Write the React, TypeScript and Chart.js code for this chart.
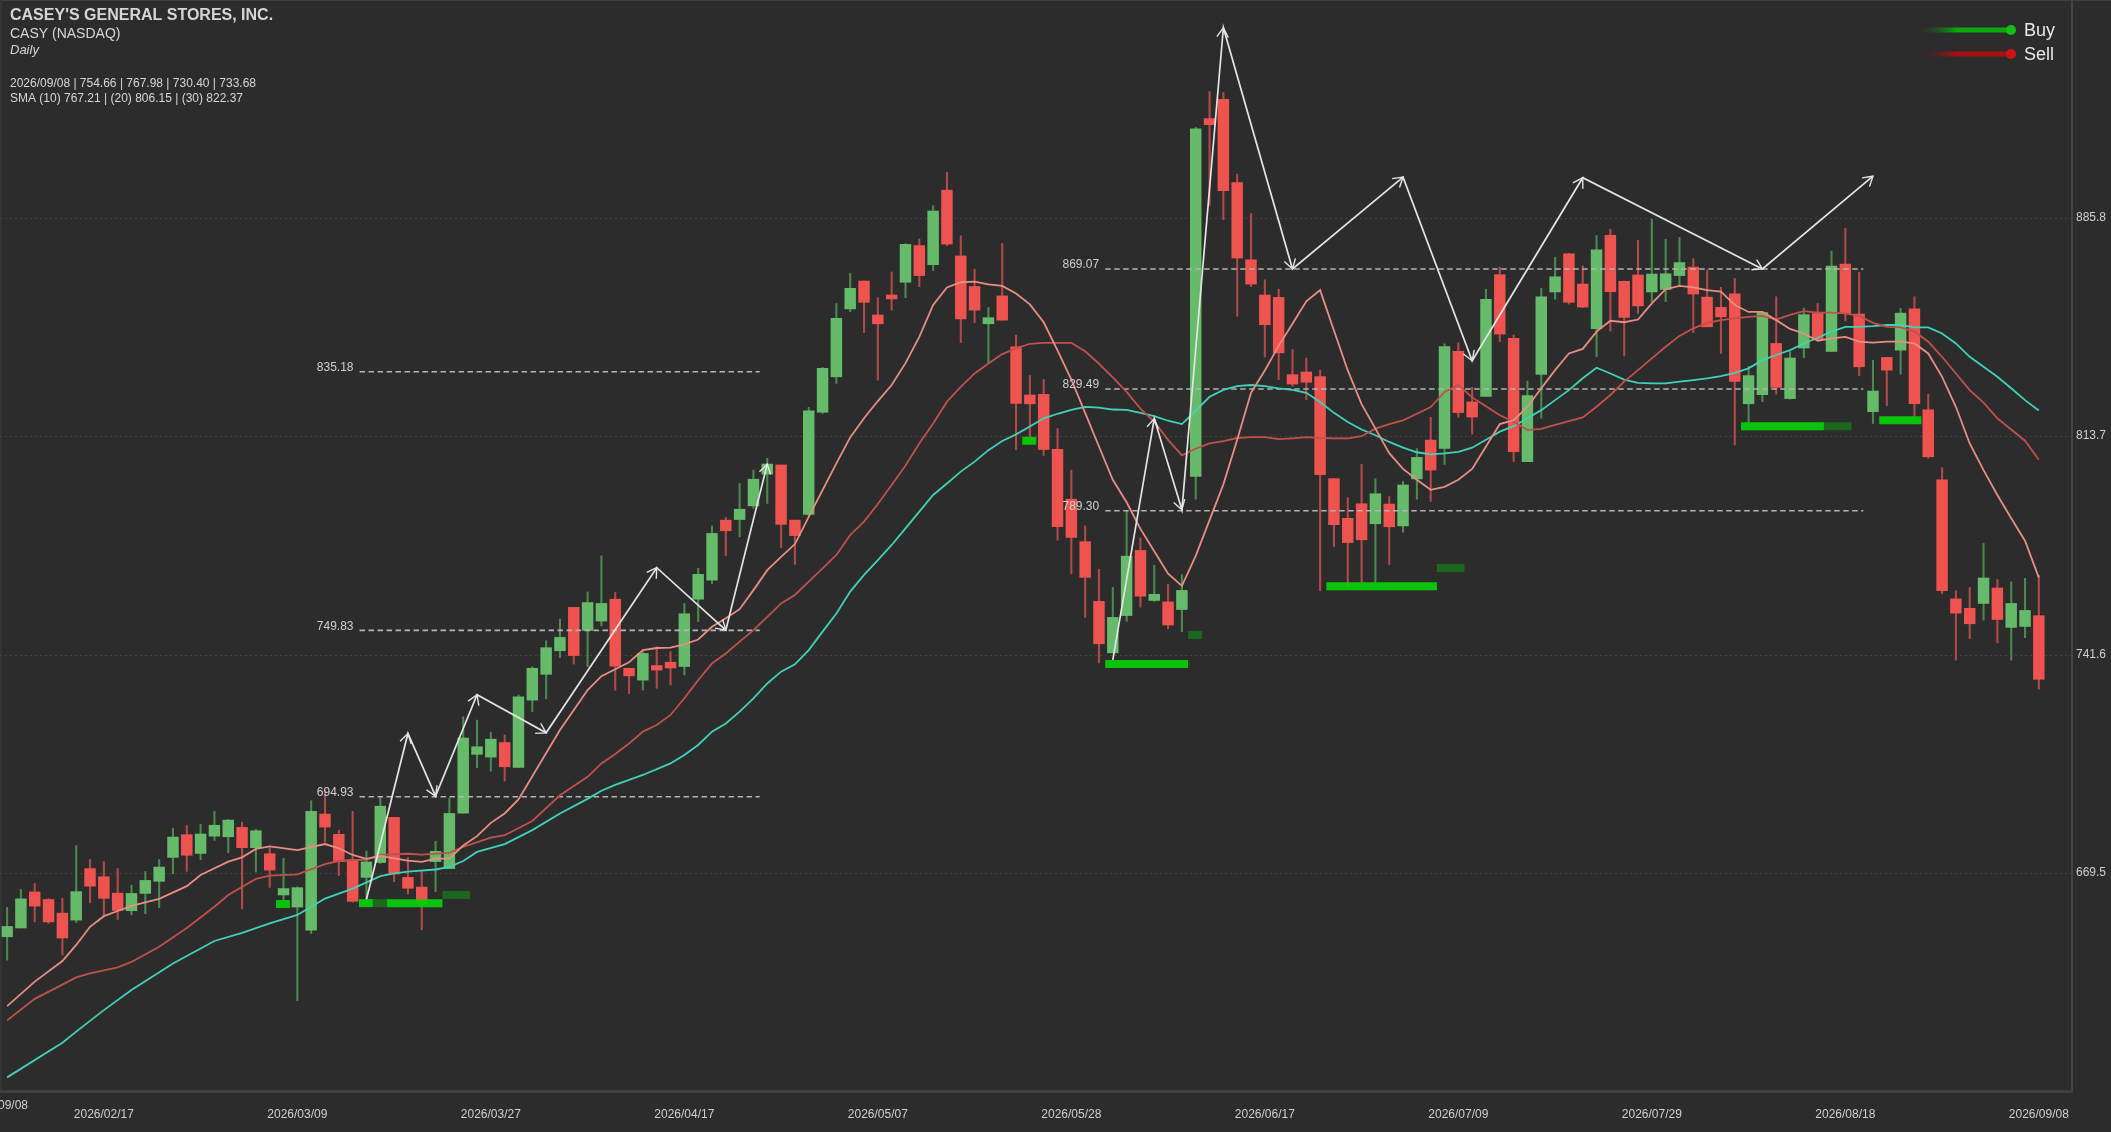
import React, { useEffect, useRef } from "react";
import { Chart, registerables } from "chart.js";

Chart.register(...registerables);

const opens = [648.7,651.6,663.5,661.0,656.5,654.2,671.2,668.5,663.1,657.3,
663,667,674.9,682.4,676.2,681.9,681.7,684.8,678.1,676.1,
662.5,658.5,650.9,689.2,682.5,674.2,668.3,673.2,688.1,668.3,
665.1,673.5,671.2,689.5,708.9,708,712.8,704.6,726.8,735.3,
743.1,757.4,749.8,752.9,760.1,737.3,733.4,738.2,739.3,737.9,
760.1,766.4,786.2,786.4,790.9,801.4,804.4,786.2,788.1,821.8,
833.5,855.9,865.1,853.9,860.5,864.7,876.8,870.5,895.1,873.4,
863.3,851,860.2,843.4,827.5,827.7,809.6,793.1,779.1,759.4,
742.4,754.7,776.2,759.7,759.2,756.7,800.6,918.7,925.1,897.6,
872.1,860.5,859.7,834.2,835.1,833.6,799.9,786.8,791.6,785,
791.5,784.3,799.8,812.6,809.9,841.9,825.2,827,867.2,846.2,
805.5,834.3,861.5,874.1,864.1,849.4,880.2,865,867.1,861.5,
862.3,866.9,869.7,859.8,856.4,860.9,824.6,827.6,844.5,826.3,
843,854.4,841.9,870.7,854.2,822,839.9,842.3,855.9,822.6,
799.5,760.2,757.1,758.7,763.8,750.8,751.1,754.66];

const highs = [658.4,664.3,666.3,661.3,661.4,678.8,674.2,673.5,671.2,665.7,
670.2,674.2,684.5,685.4,685.8,690.1,687.4,686.5,684.1,678,
674.6,665.2,693.6,697.1,683.9,690.1,677,694.9,688.1,674.9,
670.2,680.2,694.4,721.3,720.2,716.2,715.3,728.5,737.8,746.4,
753.5,757.4,762.5,774.4,762.4,737.3,742.8,744.4,742.8,758.7,
770.3,784.3,787.1,798.3,802.7,806.6,804.4,786.2,823.4,836.6,
857.7,867.6,865.1,859.6,868.1,877.4,879,890,901,880,
869,856.4,877.5,847.2,833.9,832.6,816.4,802.7,784.3,770,
764,789.4,780.3,771.3,765,768.2,915.8,927.6,927.3,900.4,
887.4,865.5,862.4,842.5,839.7,835.7,799.9,793.6,804.6,799.9,
793.9,799,809.8,820.1,844.4,844.8,830,862.4,869.7,847.3,
832.1,862.7,872.9,874.2,870.1,880.1,882.2,865.1,878.5,885.5,
878.9,879.5,872.5,868.7,863,866,837,854.8,859.9,841.8,
856.1,857.7,875,882.5,868,838.9,839.9,856.1,859.9,827.7,
803.5,762.9,764,778.5,766.6,765.8,767,767.98];

const lows = [641,651.6,653.6,653.1,642.7,653.4,659.9,655.5,654.4,655.9,
656.3,658.3,669.5,670.3,674.1,680.5,676.4,657.9,670.1,665,
660.8,627.6,649.8,679.9,668.9,660.1,660.8,672.9,666.9,662.8,
651,663.6,671.2,689.5,704.5,703.3,700.1,704.6,723,727.2,
740.8,738.7,737.8,751.3,730.1,729,730.1,730.7,731.8,735.1,
752.7,765.3,774.4,780.7,790.1,791.7,777.1,771.6,787.7,821.4,
831.3,855,848.1,832.4,855.5,859.6,863.2,868.5,876.8,844.8,
851.4,837.9,852.2,809.4,813.5,807.6,779.6,768.5,754.1,739.1,
742.4,752.8,757.5,759.4,750.4,749.4,793.1,890.1,885.4,853.5,
863.3,840,832.6,830.4,826,762.9,777.5,763.4,765.6,765.6,
771.5,782.2,793.1,792.4,804.6,820.1,814.6,827,845.1,805.5,
805.5,819.8,859.1,857.5,856.4,840.1,848.6,840.4,854.4,858.3,
858.3,863.8,848.1,850,841.2,811,818.4,825.3,827.8,826.1,
839.8,845.4,841.8,851.9,833.9,818.1,824,834.4,820.3,806.6,
762,740,747.1,753.2,745.7,740,747.4,730.4];

const closes = [652.1,661.2,658.8,653.6,648.3,663.6,665.4,661.4,657.4,663,
667.3,671.7,681.6,675.6,682.6,685.5,687.2,678.1,683.7,670.7,
664.6,664.9,690.1,684.9,673.5,660.4,673.4,691.8,669.4,664.7,
659.7,676.9,689.4,714.3,711.4,713.9,704.8,727.9,737.3,744.1,
747.5,741.5,759,758.7,738,734.8,742.2,736.7,737.4,755.3,
768.3,781.8,782.7,789.8,799.7,804.7,784.8,781.1,822.3,836.3,
852.8,862.7,858.1,851,859.2,877.2,866.9,888.2,877.3,852.6,
855.5,853,852.2,824.7,824.6,809.5,784,780.5,767.3,745.4,
754.1,774.3,761.1,761.7,751.6,763,915.3,916.7,894.9,872.7,
864.1,850.7,841.4,831.1,831.7,801.2,784.7,778.8,779.7,794.9,
784,797.8,806.9,802.7,843.5,821.7,820.2,859.1,847.6,808.8,
827.3,859.9,866.5,858.1,856.5,875.4,861.6,853.1,856.9,867.4,
867.5,871.2,860.8,850,853.3,832,833.9,854.7,830,839.7,
854,845.8,870,854.4,836.8,828.8,835.7,854.5,824.6,807.1,
762.9,755.5,752,767.1,753.4,758.7,756.4,733.68];

const sma10Index = [0,2,4,5,6,7,8,9,11,13,14,16,17,18,19,21,23,24,25,26,27,28,29,30,31,32,33,34,35,36,37,40,42,43,44,45,46,47,48,49,50,51,52,53,54,55,56,57,58,59,60,61,62,63,64,65,66,67,68,69,70,71,72,73,74,75,76,77,78,79,80,81,82,83,84,85,86,87,88,89,90,91,92,93,94,95,96,97,98,99,100,101,102,103,104,105,106,107,108,109,110,111,112,113,114,115,116,117,118,119,120,121,122,123,124,125,126,127,128,129,130,131,132,133,134,135,136,137,138,139,140,141,142,143,144,145,146,147];
const sma10Values = [625.8,633.9,640.7,646,652,655.5,657.2,658.9,661.2,665.4,669.1,673.5,674.9,677.7,678.5,677.3,679.3,677.9,675.7,674.4,675.4,674.6,673.8,673.4,674.5,674.5,678.8,681.9,686.3,689.4,694,716.9,730.1,734.7,737,739.3,743.3,744,744.1,745.2,746.8,751,753.8,756.8,763.1,769.7,774.1,778.3,787.3,796.1,804.9,813.5,819.8,825.5,830.8,838,846.7,857.2,863,864.7,864.9,864,863.5,861,857.4,851.5,842.2,832.6,821.6,810.5,799.5,792.1,783.3,775.9,768.5,764.5,774.4,786.2,798,812.7,828.2,835.6,843.7,851,858.4,862.1,848.8,835.6,824.5,816.4,808.3,803.1,799.5,796.2,797.2,799.5,803.1,810.5,817.9,819.2,823.6,829.7,835.7,841.2,842.7,848.4,852,851.5,852.4,857.7,862.4,863.5,863,862.1,861.6,857.2,854.9,854.9,852.2,849.3,847.8,845.4,846.2,846.7,845.1,844.8,845.1,845.1,844.5,841.2,833.5,823.6,811.5,802.7,794.5,786.8,779.4,767.21];

const sma20Index = [0,2,4,5,6,8,9,11,13,15,16,18,19,21,23,24,26,27,29,30,32,33,35,36,38,40,42,43,44,45,46,47,48,49,50,51,52,53,54,55,56,57,58,59,60,61,62,63,64,65,66,67,68,69,70,71,72,73,74,75,76,77,78,79,80,81,82,83,84,85,86,87,88,89,90,91,92,93,94,95,96,97,98,99,100,101,102,103,104,105,106,107,108,109,110,111,112,113,114,115,116,117,118,119,120,121,122,123,124,125,126,127,128,129,130,131,132,133,134,135,136,137,138,139,140,141,142,143,144,145,146,147];
const sma20Values = [621.1,628.2,632.9,635.3,636.6,638.6,640.4,645.4,651.6,658.6,662.5,667.8,668.9,669.3,672.7,673.7,674.2,675.7,676.1,675.8,676.4,678.4,681.4,682.2,686.9,695.4,701.5,705.9,709,712.5,716.4,718.6,721.9,727.4,733.4,738.9,742.2,746.1,749.9,754.3,758.7,761.5,765.9,770.3,774.7,781.3,785.7,791.5,797.8,804.2,811.5,818.1,825.3,830.2,834.6,837.9,841,842.9,844.4,844.7,844.7,844.7,841.9,837.8,833.3,828.5,823,818.6,812.7,807.6,809.8,811.5,812.3,813.3,813.6,813.6,812.9,813.2,813.6,813.3,813.2,813.2,813.9,816.4,817.9,819.1,821.3,823.5,828.5,830.8,826.7,823.8,820.8,818.7,815.9,816.3,817.6,818.9,820.1,823.6,827.5,831.9,835.7,839.6,843.4,847,849.5,851.3,852.2,852.8,853.3,853.6,852.4,853.9,855.2,854.7,854.7,854.4,853.6,851.3,850,849.8,848.4,845.1,840.1,834.6,829.1,825,819.8,816.1,812.4,806.15];

const sma30Index = [0,4,5,7,9,12,15,17,19,21,22,23,25,27,28,29,31,32,33,34,36,38,40,42,43,44,46,48,49,50,51,52,53,54,55,56,57,58,59,60,61,62,63,64,65,66,67,68,69,70,71,72,73,74,75,76,77,78,79,80,81,82,83,84,85,86,87,88,89,90,91,92,93,94,95,96,97,98,99,100,101,102,103,104,105,106,107,108,109,110,111,112,113,114,115,116,117,118,119,120,121,122,123,124,125,126,127,128,129,130,131,132,133,134,135,136,137,138,139,140,141,142,143,144,145,146,147];
const sma30Values = [602.3,613.7,617.4,624.5,631.1,639.9,647.3,650,653.1,655.9,658.6,661.3,664.6,668.7,669.6,670.2,670.9,671.8,673.7,676.7,679.3,683.9,689.4,694.2,696.9,698.8,702.1,705.9,708.7,712,716.4,719.1,723,727.4,732.3,736.2,738.6,743.3,749.4,755.4,762.6,768.1,773,778,783.5,789,794.5,798.3,802.2,805.5,809.3,812.3,814.5,817.1,819.8,821.3,822.6,823.6,823.3,822.7,822.6,821.6,820.5,819,817.9,822.3,826.9,829.2,830.4,830.8,830.4,829.7,829.2,828.2,825.2,821.6,818.6,816.1,814.2,812,810.1,808.6,807.9,808.2,808.7,810.1,812.7,815.4,817.2,819.8,822.5,825.8,829.1,833,836.5,834.6,832.6,831.5,831.3,831.3,831.9,832.4,833,833.7,834.8,836.3,839,840.7,842.3,844.5,846.4,848.4,850,850,850.2,850.6,850.6,849.8,849.8,847.8,844.5,840.1,836.8,833.5,829.7,825.8,822.37];

const tickIndex = [7,21,35,49,63,77,91,105,119,133,147];
const tickDates = ["2026/02/17","2026/03/09","2026/03/27","2026/04/17","2026/05/07","2026/05/28","2026/06/17","2026/07/09","2026/07/29","2026/08/18","2026/09/08"];
const priceTicks = [885.8,813.7,741.6,669.5];

const levelValues = [835.18,749.83,694.93,869.07,829.49,789.3];
const levelFrom = [25.5,25.5,25.5,79.45,79.45,79.45];
const levelTo = [54.45,54.45,54.45,134.3,134.3,134.3];

const zigzagOneIndex = [26,29,31,34,39,47,52,55];
const zigzagOneValues = [661.1,715.8,695.1,728.6,716,770.5,749.9,804.7];
const zigzagTwoIndex = [80,83,85,88,93,101,106,114,127,135];
const zigzagTwoValues = [740.1,819.7,789.6,948.7,869.1,899.4,838.8,899.2,869.1,899.7];

const zoneFrom = [19.46,25.46,26.46,27.46,31.5,73.45,79.45,85.45,95.45,103.45,125.45,131.45,135.45];
const zoneTo = [20.46,26.46,27.46,31.5,33.5,74.46,85.45,86.45,103.45,105.45,131.45,133.45,138.5];
const zonePrice = [659.5,659.8,659.8,659.8,662.5,812.4,738.75,748.3,764.4,770.4,817.2,817.2,819.2];
const zoneStrong = [true,true,false,true,false,true,true,false,true,false,true,false,true];

const headerLines = ["CASEY'S GENERAL STORES, INC.","CASY (NASDAQ)","Daily","2026/09/08 | 754.66 | 767.98 | 730.40 | 733.68","SMA (10) 767.21 | (20) 806.15 | (30) 822.37"];
const legendNames = ["Buy","Sell"];

const BG = "#2c2c2c";
const TEXT = "#cfcfcf";
const FONT = "'Liberation Sans', Arial, sans-serif";

function pairs(xs: number[], ys: number[]) {
  return xs.map((x, i) => ({ x, y: ys[i] }));
}

const overlayPlugin = {
  id: "overlay",
  afterDatasetsDraw(chart: any) {
    const { ctx, scales } = chart;
    const x = scales.x;
    const y = scales.y;
    ctx.save();

    // level labels
    ctx.font = `12px ${FONT}`;
    ctx.fillStyle = TEXT;
    ctx.textAlign = "right";
    ctx.textBaseline = "middle";
    levelValues.forEach((v, i) => {
      ctx.fillText(v.toFixed(2), x.getPixelForValue(levelFrom[i]) - 6, y.getPixelForValue(v) - 4);
    });

    // arrow heads at every zigzag vertex
    ctx.strokeStyle = "#e4e4e4";
    ctx.lineWidth = 1.4;
    [[zigzagOneIndex, zigzagOneValues], [zigzagTwoIndex, zigzagTwoValues]].forEach(([xs, ys]) => {
      for (let i = 1; i < xs.length; i++) {
        const x0 = x.getPixelForValue(xs[i - 1]);
        const y0 = y.getPixelForValue(ys[i - 1]);
        const x1 = x.getPixelForValue(xs[i]);
        const y1 = y.getPixelForValue(ys[i]);
        const a = Math.atan2(y1 - y0, x1 - x0);
        const len = 11;
        const spread = 0.55;
        ctx.beginPath();
        ctx.moveTo(x1 - len * Math.cos(a - spread), y1 - len * Math.sin(a - spread));
        ctx.lineTo(x1, y1);
        ctx.lineTo(x1 - len * Math.cos(a + spread), y1 - len * Math.sin(a + spread));
        ctx.stroke();
      }
    });

    // header
    ctx.textAlign = "left";
    ctx.textBaseline = "middle";
    ctx.fillStyle = "#d6d6d6";
    ctx.font = `bold 16px ${FONT}`;
    ctx.fillText(headerLines[0], 10, 16);
    ctx.font = `14px ${FONT}`;
    ctx.fillText(headerLines[1], 10, 34);
    ctx.font = `italic 13px ${FONT}`;
    ctx.fillText(headerLines[2], 10, 50);
    ctx.font = `12px ${FONT}`;
    ctx.fillText(headerLines[3], 10, 84);
    ctx.fillText(headerLines[4], 10, 99);

    // legend
    const colours = [["#0ca80c", "#11c011"], ["#a81010", "#cc1414"]];
    legendNames.forEach((name, i) => {
      const ly = 30 + i * 24;
      const g = ctx.createLinearGradient(1913, 0, 2011, 0);
      g.addColorStop(0, "rgba(40,40,40,0)");
      g.addColorStop(0.45, colours[i][0]);
      g.addColorStop(1, colours[i][0]);
      ctx.strokeStyle = g;
      ctx.lineWidth = 5;
      ctx.beginPath();
      ctx.moveTo(1913, ly);
      ctx.lineTo(2011, ly);
      ctx.stroke();
      ctx.fillStyle = colours[i][1];
      ctx.beginPath();
      ctx.arc(2011, ly, 5, 0, Math.PI * 2);
      ctx.fill();
      ctx.fillStyle = "#e8e8e8";
      ctx.font = `18px ${FONT}`;
      ctx.fillText(name, 2024, ly + 1);
    });

    // the first date label, cut by the left edge
    ctx.fillStyle = TEXT;
    ctx.font = `12px ${FONT}`;
    ctx.textAlign = "right";
    ctx.fillText(tickDates[tickDates.length - 1], 28, 1106);

    // frame
    ctx.strokeStyle = "#3f3f3f";
    ctx.lineWidth = 1;
    ctx.beginPath();
    ctx.moveTo(1, 1092);
    ctx.lineTo(1, 0.5);
    ctx.lineTo(2111, 0.5);
    ctx.stroke();
    ctx.restore();
  },
};

export default function App() {
  const ref = useRef<HTMLCanvasElement | null>(null);

  useEffect(() => {
    document.body.style.margin = "0";
    document.body.style.background = BG;
    const indices = opens.map((_, i) => i);
    const up = opens.map((o, i) => closes[i] >= o);
    const wicks = indices.map((i) => ({ x: i, y: [lows[i], highs[i]] }));
    const bodies = indices.map((i) => ({ x: i, y: [opens[i], closes[i]] }));

    const lineBase = { type: "line", pointRadius: 0, tension: 0, fill: false, parsing: true };
    const datasets: any[] = [
      {
        type: "bar",
        label: "Wick",
        data: wicks,
        backgroundColor: up.map((u) => (u ? "#4a8a4e" : "#b44a48")),
        barThickness: 1.4,
        grouped: false,
        order: 10,
      },
      {
        type: "bar",
        label: "Body",
        data: bodies,
        backgroundColor: up.map((u) => (u ? "#66bb6a" : "#ef5350")),
        barThickness: 10.8,
        grouped: false,
        order: 9,
      },
      ...zoneFrom.map((from, i) => ({
        ...lineBase,
        label: "Zone " + i,
        data: [
          { x: from, y: zonePrice[i] },
          { x: zoneTo[i], y: zonePrice[i] },
        ],
        borderColor: zoneStrong[i] ? "rgba(8,208,8,0.92)" : "rgba(28,105,28,0.95)",
        borderWidth: 8,
        borderCapStyle: "butt",
        order: 8,
      })),
      ...levelValues.map((v, i) => ({
        ...lineBase,
        label: "Level " + v,
        data: [
          { x: levelFrom[i], y: v },
          { x: levelTo[i], y: v },
        ],
        borderColor: "#b4b4b4",
        borderWidth: 1.6,
        borderDash: [5.5, 3.5],
        order: 7,
      })),
      { ...lineBase, label: "SMA 30", data: pairs(sma30Index, sma30Values), borderColor: "#3fd2b8", borderWidth: 1.8, order: 6 },
      { ...lineBase, label: "SMA 20", data: pairs(sma20Index, sma20Values), borderColor: "#c0504c", borderWidth: 1.8, order: 5 },
      { ...lineBase, label: "SMA 10", data: pairs(sma10Index, sma10Values), borderColor: "#e98d84", borderWidth: 1.8, order: 4 },
      { ...lineBase, label: "Zigzag 1", data: pairs(zigzagOneIndex, zigzagOneValues), borderColor: "#e4e4e4", borderWidth: 1.7, order: 3 },
      { ...lineBase, label: "Zigzag 2", data: pairs(zigzagTwoIndex, zigzagTwoValues), borderColor: "#e4e4e4", borderWidth: 1.7, order: 2 },
    ];

    const chart = new Chart(ref.current as HTMLCanvasElement, {
      type: "bar",
      data: { datasets },
      plugins: [overlayPlugin],
      options: {
        animation: false,
        responsive: false,
        devicePixelRatio: 1,
        layout: { padding: 0 },
        plugins: { legend: { display: false }, title: { display: false }, tooltip: { enabled: false } },
        scales: {
          x: {
            type: "linear",
            offset: false,
            min: -0.514,
            max: 149.4,
            afterBuildTicks(scale: any) {
              scale.ticks = tickIndex.map((value) => ({ value }));
            },
            afterFit(scale: any) {
              scale.height = 41;
              scale.paddingLeft = 0;
              scale.paddingRight = 0;
            },
            grid: { display: false, drawTicks: false, offset: false },
            border: { display: true, color: "#3f3f3f", width: 3 },
            ticks: {
              autoSkip: false,
              maxRotation: 0,
              padding: 16,
              color: TEXT,
              font: { family: "'Liberation Sans', Arial, sans-serif", size: 12 },
              callback: (value: any) => tickDates[tickIndex.indexOf(Number(value))] ?? "",
            },
          },
          y: {
            type: "linear",
            position: "right",
            min: 597.8,
            max: 957.85,
            afterBuildTicks(scale: any) {
              scale.ticks = priceTicks.map((value) => ({ value }));
            },
            afterFit(scale: any) {
              scale.width = 39;
              scale.paddingTop = 0;
              scale.paddingBottom = 0;
            },
            grid: { color: "#444444", drawTicks: false, lineWidth: 1 },
            border: { display: true, color: "#444444", width: 2, dash: [2, 3] },
            ticks: {
              padding: 4,
              labelOffset: -1,
              color: TEXT,
              font: { family: "'Liberation Sans', Arial, sans-serif", size: 12 },
              callback: (value: any) => Number(value).toFixed(1),
            },
          },
        },
      } as any,
    } as any);
    return () => chart.destroy();
  }, []);

  return (
    <canvas
      ref={ref}
      width={2111}
      height={1132}
      style={{ position: "fixed", left: 0, top: 0, width: 2111, height: 1132, background: BG, display: "block" }}
    />
  );
}
